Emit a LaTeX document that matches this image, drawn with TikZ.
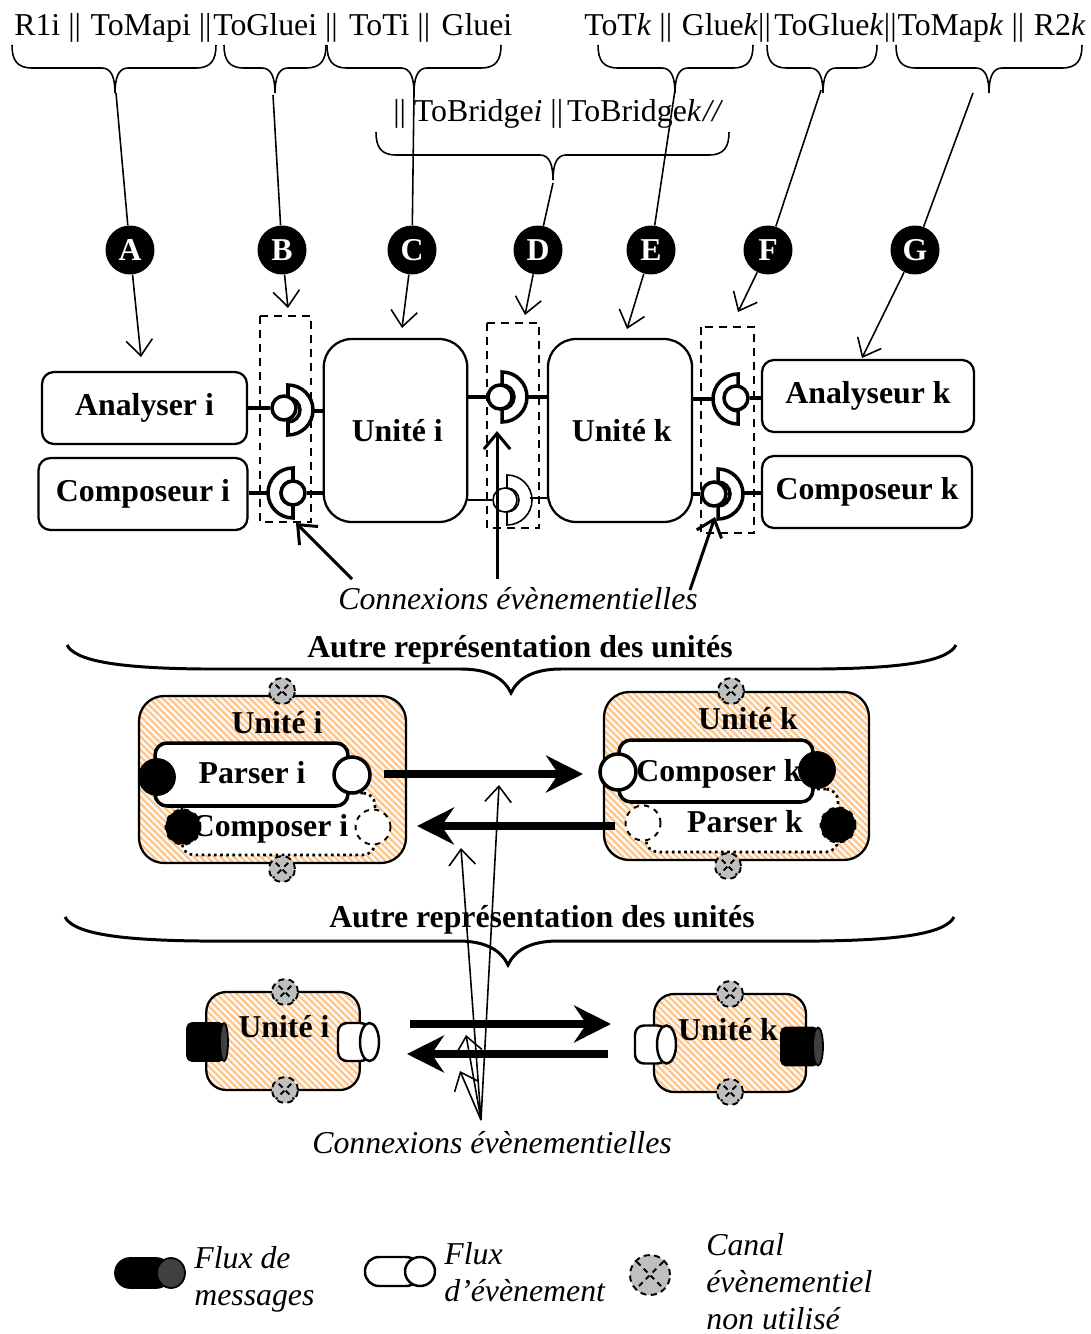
\documentclass[tikz,border=0pt]{standalone}
\usepackage{fontspec}
\setmainfont{Liberation Serif}
\usetikzlibrary{calc,arrows.meta,patterns.meta}
\tikzset{
  every node/.style={font=\fontsize{18.1}{21}\selectfont},
  bracket/.style={line width=0.9pt},
  widebracket/.style={line width=1.7pt},
  lettre/.style={circle,fill=black,text=white,font=\fontsize{18.1}{21}\selectfont\bfseries,inner sep=0pt,minimum size=0.98cm},
  fine/.style={line width=0.9pt,-{Straight Barb[length=9pt,width=15pt]}},
  plain/.style={line width=0.9pt},
  event/.style={line width=1.7pt,-{Straight Barb[length=9pt,width=15pt]}},
  boite/.style={draw,line width=1.3pt,rounded corners=0.24cm,fill=white,font=\fontsize{18.1}{21}\selectfont\bfseries,inner sep=0pt},
  unite/.style={boite,rounded corners=0.56cm},
  zone/.style={draw,dashed,line width=1.1pt,dash pattern=on 4.5pt off 3.5pt},
  cup/.style={draw,fill=white,line join=miter},
  gras/.style={font=\fontsize{18.1}{21}\selectfont\bfseries},
  ital/.style={font=\fontsize{18.1}{21}\selectfont\itshape,align=left},
  hachure/.style={draw,line width=1.3pt,rounded corners=0.5cm,inner sep=0pt,pattern={Lines[angle=-45,distance=2.7pt,line width=1.4pt]},pattern color=orange!45!white},
  interne/.style={draw,fill=white,line width=2pt,rounded corners=0.24cm,inner sep=0pt},
  pointille/.style={draw,fill=white,line width=1.5pt,dotted,rounded corners=0.24cm,inner sep=0pt},
  port/.style={circle,draw,line width=2pt,fill=white,inner sep=0pt,minimum size=0.72cm},
  portnoir/.style={circle,draw,fill=black,inner sep=0pt,minimum size=0.74cm},
  portvide/.style={circle,draw,dashed,line width=1.1pt,fill=white,inner sep=0pt,minimum size=0.7cm},
  portcache/.style={circle,draw,dashed,line width=1.1pt,fill=black,inner sep=0pt,minimum size=0.7cm},
  canal/.style={circle,draw,dashed,line width=1.1pt,dash pattern=on 3.5pt off 2.5pt,fill=black!25,inner sep=0pt,minimum size=0.52cm,
    path picture={\draw[dashed,line width=1.1pt,dash pattern=on 3pt off 2.5pt]
      (path picture bounding box.north west)--(path picture bounding box.south east)
      (path picture bounding box.north east)--(path picture bounding box.south west);}},
  gros/.style={line width=4.3pt,-{Stealth[length=21pt,width=21pt,inset=7pt]}},
  msg/.style={draw=black,fill=black,line width=1pt},
  evt/.style={draw=black,fill=white,line width=1.4pt},
}
\begin{document}
\begin{tikzpicture}[x=0.02cm,y=-0.02cm]
  \useasboundingbox (0,0) rectangle (1090,1334);
  \node[anchor=base west,inner sep=0pt] (hauti) at (14,36) {R1i ||\kern1pt{} ToMapi ||\kern1pt ToGluei ||\kern2pt{} ToTi ||\kern2pt{} Gluei};
  \node[anchor=base east,inner sep=0pt] (hautk) at (1086,36) {ToT\textit{k} ||\kern1pt{} Glue\textit{k}||\kern2pt ToGlue\textit{k}||\kern.5pt ToMap\textit{k} ||\kern1pt{} R2\textit{k}};
  \node[anchor=base west,inner sep=0pt] (pont) at (393,122) {||\kern4.5pt ToBridge\textit{i} ||\kern2.3pt ToBridge\textit{k}\kern1pt\textit{//}};

  \foreach \xa/\xb/\xc/\ya in {12/216/115/45, 224/326/275/45, 327/501/414/45, 598/753/675/45, 767/877/823/45, 896/1082/989/45, 376/729/553/132}
    \draw[bracket] (\xa,\ya) .. controls (\xa,\ya+15) and (\xa+5,\ya+23) .. (\xa+20,\ya+23) -- (\xc-13,\ya+23)
      .. controls (\xc-3,\ya+23) and (\xc,\ya+34) .. (\xc,\ya+48)
      .. controls (\xc,\ya+34) and (\xc+3,\ya+23) .. (\xc+13,\ya+23) -- (\xb-20,\ya+23)
      .. controls (\xb-5,\ya+23) and (\xb,\ya+15) .. (\xb,\ya);

  \foreach \n/\x/\bx/\by/\tx/\ty in {A/130/116/93/141/357, B/282/273/95/288/308, C/412/414/93/402/328, D/538/553/183/525/315, E/651/675/90/627/329, F/768/821/90/738/312, G/915/973/93/862/358} {
    \node[lettre] (\n) at (\x,250) {\n};
    \coordinate (h\n) at (\bx,\by);
    \coordinate (b\n) at (\tx,\ty);
    \draw[plain] (h\n)--(\n);
    \draw[fine] (\n)--(b\n);
  }

  \node[boite,minimum width=4.1cm,minimum height=1.44cm] (ai) at (144.5,408) {Analyser i};
  \node[boite,minimum width=4.18cm,minimum height=1.44cm] (ci) at (143,494) {Composeur i};
  \node[unite,minimum width=2.87cm,minimum height=3.66cm] (ui) at (395.5,430.5) {\kern2pt Unité i};
  \node[unite,minimum width=2.88cm,minimum height=3.66cm] (uk) at (620,430.5) {\kern2pt Unité k};
  \node[boite,minimum width=4.24cm,minimum height=1.44cm] (ak) at (868,396) {Analyseur k};
  \node[boite,minimum width=4.2cm,minimum height=1.44cm] (ck) at (867,492) {Composeur k};

  \draw[zone] (260,316) rectangle (311,522);
  \draw[zone] (487,323) rectangle (539,528);
  \draw[zone] (701,327) rectangle (754,533);

  \foreach \n/\cx/\cy/\s/\px/\py/\w in {sa/288/410/1/284/408/2, sb/293/493/-1/293/493/2, sc/502/397/1/500/397/2, sd/507/500/1/505/500/0.9, se/738/399/-1/736/398/2, sf/718/494/1/714/494/2} {
    \draw[cup,line width=\w pt,shift={(\cx,\cy)},xscale=\s] (0,-25) arc (-90:90:25) -- (0,12) arc (90:-90:12) -- cycle;
    \node[circle,draw,fill=white,inner sep=0pt,minimum size=0.48cm,line width=\w pt] (\n) at (\px,\py) {};
  }

  \coordinate (ca) at (312,411);
  \coordinate (cb) at (267,493);
  \coordinate (cc) at (525,397);
  \coordinate (cd) at (530,498);
  \coordinate (ce) at (712,399);
  \coordinate (cf) at (743,493);
  \draw[line width=2pt] (sa)--(ai.east |- sa);
  \draw[line width=2pt] (ca)--(ca -| ui.west);
  \draw[line width=2pt] (cb)--(ci.east |- cb);
  \draw[line width=2pt] (sb)--(sb -| ui.west);
  \draw[line width=2pt] (sc)--(sc -| ui.east);
  \draw[line width=2pt] (cc)--(cc -| uk.west);
  \draw[line width=0.9pt] (sd.west)--(ui.east |- sd.west);
  \draw[line width=0.9pt] (cd)--(cd -| uk.west);
  \draw[line width=2pt] (ce)--(ce -| uk.east);
  \draw[line width=2pt] (se)--(se -| ak.west);
  \draw[line width=2pt] (sf)--(sf -| uk.east);
  \draw[line width=2pt] (cf)--(cf -| ck.west);

  \node[ital] (conna) at (518,599) {Connexions évènementielles};
  \coordinate (ea) at (352,579);
  \coordinate (eb) at (497,579);
  \coordinate (ec) at (690,590);
  \coordinate (fa) at (296,523);
  \coordinate (fb) at (497,431);
  \coordinate (fc) at (715,517);
  \draw[event] (ea)--(fa);
  \draw[event] (eb)--(fb);
  \draw[event] (ec)--(fc);

  \foreach \xa/\xb/\xc/\ya in {67/956/511/645, 65/954/508/917}
    \draw[widebracket] (\xa,\ya) .. controls (\xa+8,\ya+15) and (\xa+45,\ya+23) .. (\xa+135,\ya+24) -- (\xc-50,\ya+24)
      .. controls (\xc-20,\ya+24) and (\xc-6,\ya+35) .. (\xc,\ya+48)
      .. controls (\xc+6,\ya+35) and (\xc+20,\ya+24) .. (\xc+50,\ya+24) -- (\xb-135,\ya+24)
      .. controls (\xb-45,\ya+23) and (\xb-8,\ya+15) .. (\xb,\ya);
  \node[gras] (autrea) at (520,650) {Autre représentation des unités};
  \node[gras] (autreb) at (542,920) {Autre représentation des unités};

  \node[hachure,minimum width=5.34cm,minimum height=3.34cm] (ui2) at (272.5,779.5) {};
  \node[hachure,minimum width=5.3cm,minimum height=3.36cm] (uk2) at (736.5,776) {};
  \node[gras] (tui2) at (277,723) {Unité i};
  \node[gras] (tuk2) at (748,719) {Unité k};

  \node[pointille,minimum width=3.86cm,minimum height=1.24cm] (compi) at (278.5,824) {};
  \node[pointille,minimum width=3.84cm,minimum height=1.26cm] (park) at (742,820.5) {};
  \node[interne,minimum width=3.86cm,minimum height=1.26cm] (pari) at (251.5,774.5) {};
  \node[interne,minimum width=3.88cm,minimum height=1.24cm] (compk) at (716,771) {};
  \node[gras] (tpari) at (252,773) {Parser i};
  \node[gras] (tcompi) at (270,829) {Composer i};
  \node[gras] (tcompk) at (719,774) {Composer k};
  \node[gras] (tpark) at (745,822) {Parser k};

  \node[portnoir] (pa) at (157,777) {};
  \node[port] (pb) at (352,775) {};
  \node[portcache] (pc) at (183,827) {};
  \node[portvide] (pd) at (373,827) {};
  \node[port] (pe) at (618,772) {};
  \node[portnoir] (pf) at (817,770) {};
  \node[portvide] (pg) at (643,823) {};
  \node[portcache] (ph) at (838,825) {};

  \foreach \n/\x/\y in {ga/282/691, gb/282/869, gc/731/691, gd/728/866}
    \node[canal] (\n) at (\x,\y) {};

  \coordinate (ga1) at (384,774);
  \coordinate (ga2) at (583,774);
  \coordinate (gb1) at (615,826);
  \coordinate (gb2) at (417,826);
  \draw[gros] (ga1)--(ga2);
  \draw[gros] (gb1)--(gb2);

  \node[hachure,rounded corners=0.4cm,minimum width=3.07cm,minimum height=1.96cm] (ui3) at (283,1041) {};
  \node[hachure,rounded corners=0.4cm,minimum width=3.04cm,minimum height=1.96cm] (uk3) at (730,1043) {};
  \foreach \n/\x/\y in {ge/285/992, gf/285/1090, gg/730/994, gh/730/1092}
    \node[canal] (\n) at (\x,\y) {};
  \node[gras] (tui3) at (284,1027) {Unité i};
  \node[gras] (tuk3) at (728,1030) {Unité k};

  \foreach \k/\xa/\cx/\rx/\y/\ry/\rc/\bg in {msg/187/224/4/1042/19/0.1/black!75, evt/338/369.5/9.5/1042/19/0.18/white, evt/635/666.5/9.5/1044.5/19/0.18/white, msg/781/818/5/1046.5/19/0.1/black!75, msg/115/171/14/1273/15/0.3/black!75, evt/365/420/15/1271.5/14.5/0.28/white} {
    \draw[\k,rounded corners=\rc cm] (\xa,\y-\ry) rectangle (\cx,\y+\ry);
    \fill[\k,fill=\bg] (\cx,\y) ellipse ({\rx} and {\ry});
  }

  \coordinate (ha1) at (410,1024);
  \coordinate (ha2) at (611,1024);
  \coordinate (hb1) at (608,1054);
  \coordinate (hb2) at (407,1054);
  \draw[gros] (ha1)--(ha2);
  \draw[gros] (hb1)--(hb2);

  \node[ital] (connb) at (492,1143) {Connexions évènementielles};
  \coordinate (ja) at (481,1120);
  \coordinate (j1) at (499,785);
  \coordinate (j2) at (461,848);
  \coordinate (j3) at (466,1035);
  \coordinate (j4) at (460,1071);
  \draw[fine] (ja)--(j1);
  \draw[fine] (ja)--(j2);
  \draw[fine] (ja)--(j3);
  \draw[fine] (ja)--(j4);

  \node[canal,minimum size=0.8cm] (gl) at (650,1275) {};
  \node[ital,anchor=north west,inner sep=0pt] (lega) at (194,1246) {Flux de\\messages};
  \node[ital,anchor=north west,inner sep=0pt] (legb) at (444,1242) {Flux\\d’évènement};
  \node[ital,anchor=north west,inner sep=0pt] (legc) at (706,1233) {Canal\\évènementiel\\non utilisé};
\end{tikzpicture}
\end{document}
